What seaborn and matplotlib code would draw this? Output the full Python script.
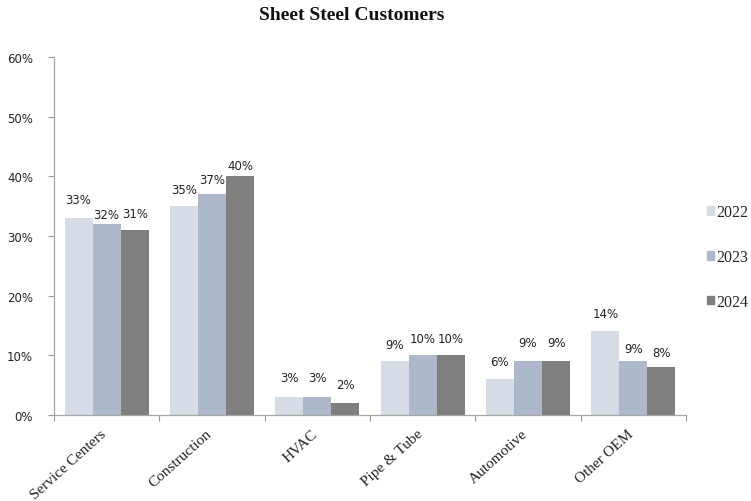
import matplotlib
matplotlib.use("Agg")
import matplotlib.pyplot as plt
import matplotlib.transforms as mtransforms
import seaborn as sns
import pandas as pd
from matplotlib.ticker import FixedLocator, PercentFormatter

categories = ["Service Centers", "Construction", "HVAC", "Pipe & Tube", "Automotive", "Other OEM"]
years = ["2022", "2023", "2024"]
values_2022 = [33, 35, 3, 9, 6, 14]
values_2023 = [32, 37, 3, 10, 9, 9]
values_2024 = [31, 40, 2, 10, 9, 8]
y_ticks = [0, 10, 20, 30, 40, 50, 60]

colors = ["#D6DCE5", "#ADB9CA", "#7F7F7F"]

# gap (px) between each bar top and its value label, per year
label_gaps = [
    [12, 10, 13, 10, 11, 11],
    [3, 8, 13, 10, 12, 6],
    [10, 4, 12, 10, 12, 8],
]

df = pd.DataFrame({
    "Segment": categories * 3,
    "Year": [y for y in years for _ in categories],
    "Share": values_2022 + values_2023 + values_2024,
})

sns.set_style("white")
fig = plt.figure(figsize=(7.51, 5.02), dpi=100)
ax = fig.add_axes([54 / 751, 86 / 502, 632 / 751, 358 / 502])

sns.barplot(data=df, x="Segment", y="Share", hue="Year", order=categories,
            hue_order=years, palette=colors, width=0.8, saturation=1,
            edgecolor="none", linewidth=0, ax=ax)

for container, gaps in zip(ax.containers, label_gaps):
    for bar, value, gap in zip(container, container.datavalues, gaps):
        ax.annotate(f"{value:.0f}%",
                    xy=(bar.get_x() + bar.get_width() / 2, bar.get_height()),
                    xytext=(0, gap * 0.72), textcoords="offset points",
                    ha="center", va="bottom", fontsize=8.5,
                    family="DejaVu Sans", color="#222222")

ax.set_xlim(-0.5, len(categories) - 0.5)
ax.set_ylim(0, 60)
ax.set_yticks(y_ticks)
ax.yaxis.set_major_formatter(PercentFormatter(decimals=0))
ax.tick_params(axis="y", direction="out", length=4, width=0.8, color="#999999",
               labelsize=8.5, labelcolor="#222222", pad=11, left=True)

# category labels at centres, tick marks at the group boundaries
ax.set_xticks(range(len(categories)))
ax.set_xticklabels(categories, rotation=42, ha="right", va="center",
                   rotation_mode="anchor", family="Liberation Serif",
                   fontsize=11, color="#222222")
ax.tick_params(axis="x", which="major", length=0, pad=12)
shift = mtransforms.ScaledTranslation(-2 / 100, 0, fig.dpi_scale_trans)
for lbl in ax.get_xticklabels():
    lbl.set_transform(lbl.get_transform() + shift)
ax.xaxis.set_minor_locator(FixedLocator([i - 0.5 for i in range(len(categories) + 1)]))
ax.tick_params(axis="x", which="minor", direction="out", length=4, width=0.8,
               color="#999999", bottom=True)
ax.set_xlabel("")
ax.set_ylabel("")

for side in ["top", "right"]:
    ax.spines[side].set_visible(False)
for side in ["left", "bottom"]:
    ax.spines[side].set_color("#A6A6A6")
    ax.spines[side].set_linewidth(0.9)

ax.legend_.remove()
handles = [plt.Rectangle((0, 0), 1, 1, color=c) for c in colors]
fig.legend(handles, years, loc="center left", bbox_to_anchor=(707 / 751, 1 - 258 / 502),
           frameon=False, borderpad=0, borderaxespad=0,
           handlelength=0.45, handleheight=0.45, handletextpad=0.15,
           labelspacing=1.8, prop={"family": "Liberation Serif", "size": 11.5})

fig.text(352 / 751, 1 - 16 / 502, "Sheet Steel Customers", ha="center", va="center",
         family="Liberation Serif", fontweight="bold", fontsize=14, color="#111111")

fig.savefig("out.png", dpi=100)
